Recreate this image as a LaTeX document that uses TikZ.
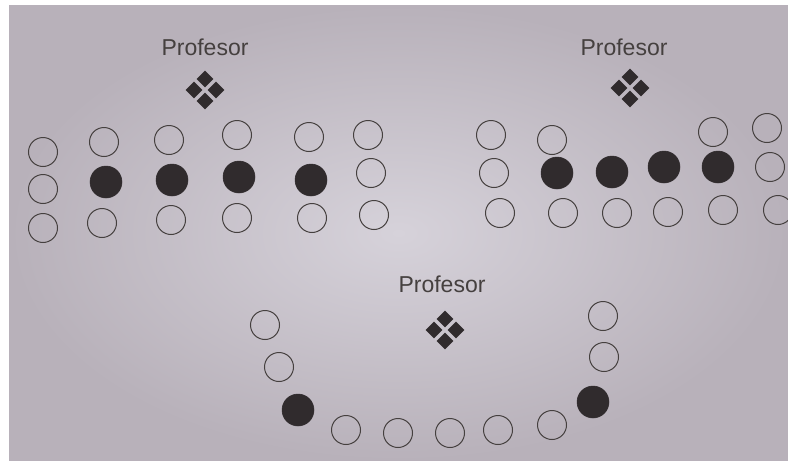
\documentclass[tikz,border=0pt]{standalone}
\usepackage{fontspec}
\setmainfont{Liberation Sans}
\usetikzlibrary{shapes.geometric}
\definecolor{ink}{HTML}{45403F}
\definecolor{dark}{HTML}{302B2D}
\definecolor{paperin}{HTML}{D6D2DA}
\definecolor{paperout}{HTML}{B8B1BA}
\tikzset{
  seat/.style={circle,draw=ink,line width=1pt,minimum size=29pt,inner sep=0pt},
  full/.style={circle,fill=dark,draw=dark,line width=0.5pt,minimum size=32pt,inner sep=0pt},
  label/.style={font=\fontsize{23}{25}\selectfont,text=ink,inner sep=0pt},
  tip/.style={diamond,fill=dark,inner sep=0pt,minimum width=17pt,minimum height=17pt},
}
\begin{document}
\begin{tikzpicture}[x=1pt,y=-1pt]
\useasboundingbox (0,0) rectangle (788,461);
\fill[white] (0,0) rectangle (788,461);
\shade[inner color=paperin,outer color=paperout] (9,5) rectangle (788,461);
% left group
\node[label] (p1) at (205,47) {Profesor};
\node[tip] (d1a) at (205,79) {};
\node[tip] (d1b) at (205,101) {};
\node[tip] (d1c) at (194,90) {};
\node[tip] (d1d) at (216,90) {};
\node[seat] (a11) at (43,152) {};
\node[seat] (a12) at (43,189) {};
\node[seat] (a13) at (43,228) {};
\node[seat] (a21) at (104,142) {};
\node[full] (a22) at (106,182) {};
\node[seat] (a23) at (102,223) {};
\node[seat] (a31) at (169,140) {};
\node[full] (a32) at (172,180) {};
\node[seat] (a33) at (171,220) {};
\node[seat] (a41) at (237,135) {};
\node[full] (a42) at (239,177) {};
\node[seat] (a43) at (237,218) {};
\node[seat] (a51) at (309,137) {};
\node[full] (a52) at (311,180) {};
\node[seat] (a53) at (312,218) {};
\node[seat] (a61) at (368,135) {};
\node[seat] (a62) at (371,173) {};
\node[seat] (a63) at (374,215) {};
% right group
\node[label] (p2) at (624,47) {Profesor};
\node[tip] (d2a) at (630,77) {};
\node[tip] (d2b) at (630,99) {};
\node[tip] (d2c) at (619,88) {};
\node[tip] (d2d) at (641,88) {};
\node[seat] (b11) at (491,135) {};
\node[seat] (b12) at (494,173) {};
\node[seat] (b13) at (500,213) {};
\node[seat] (b21) at (552,140) {};
\node[full] (b22) at (557,173) {};
\node[seat] (b23) at (563,213) {};
\node[full] (b32) at (612,172) {};
\node[seat] (b33) at (617,213) {};
\node[full] (b42) at (664,167) {};
\node[seat] (b43) at (668,212) {};
\node[seat] (b51) at (713,132) {};
\node[full] (b52) at (718,167) {};
\node[seat] (b53) at (723,210) {};
\node[seat] (b61) at (767,128) {};
\node[seat] (b62) at (770,167) {};
\node[seat] (b63) at (778,210) {};
% bottom group
\node[label] (p3) at (442,284) {Profesor};
\node[tip] (d3a) at (445,319) {};
\node[tip] (d3b) at (445,341) {};
\node[tip] (d3c) at (434,330) {};
\node[tip] (d3d) at (456,330) {};
\node[seat] (c1) at (265,325) {};
\node[seat] (c2) at (279,367) {};
\node[full] (c3) at (298,410) {};
\node[seat] (c4) at (346,430) {};
\node[seat] (c5) at (398,433) {};
\node[seat] (c6) at (450,433) {};
\node[seat] (c7) at (498,430) {};
\node[seat] (c8) at (552,425) {};
\node[full] (c9) at (593,402) {};
\node[seat] (c10) at (604,357) {};
\node[seat] (c11) at (603,316) {};
\end{tikzpicture}
\end{document}
